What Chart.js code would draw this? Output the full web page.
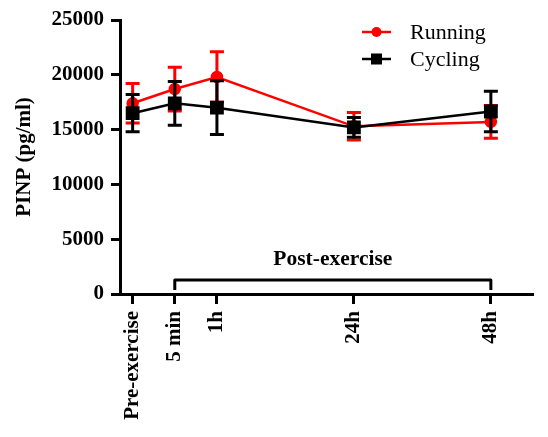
<!DOCTYPE html>
<html>
<head>
<meta charset="utf-8">
<script src="https://cdn.jsdelivr.net/npm/chart.js@4"></script>
<style>
  html, body { margin: 0; padding: 0; background: #fff; }
</style>
</head>
<body>
<canvas id="myChart" width="548" height="437"></canvas>
<script>
// time points (axis is not to scale in the original figure)
var timeLabels = ['Pre-exercise', '5 min', '1h', '24h', '48h'];
var timePos = [0, 1, 2, 5.25, 8.5];

// PINP values (pg/ml), mean and SD
var runningMean = [17400, 18700, 19800, 15300, 15700];
var runningSD = [1800, 2000, 2300, 1250, 1500];
var cyclingMean = [16500, 17400, 17000, 15200, 16650];
var cyclingSD = [1700, 2000, 2450, 900, 1850];

var yTicks = [0, 5000, 10000, 15000, 20000, 25000];

Chart.defaults.font.family = "'Liberation Serif', 'DejaVu Serif', serif";
Chart.defaults.color = '#000';

function toPoints(means) {
  return means.map(function (m, i) { return { x: timePos[i], y: m }; });
}

// error bars, drawn just under each dataset
var errorBars = {
  id: 'errorBars',
  beforeDatasetDraw: function (chart, args) {
    var ds = chart.data.datasets[args.index];
    var y = chart.scales.y;
    var ctx = chart.ctx;
    ctx.save();
    ctx.strokeStyle = ds.borderColor;
    ctx.lineWidth = 3;
    args.meta.data.forEach(function (pt, i) {
      var m = ds.data[i].y;
      var top = y.getPixelForValue(m + ds.sd[i]);
      var bot = y.getPixelForValue(m - ds.sd[i]);
      ctx.beginPath();
      ctx.moveTo(pt.x, top);
      ctx.lineTo(pt.x, bot);
      ctx.moveTo(pt.x - 7, top);
      ctx.lineTo(pt.x + 7, top);
      ctx.moveTo(pt.x - 7, bot);
      ctx.lineTo(pt.x + 7, bot);
      ctx.stroke();
    });
    ctx.restore();
  }
};

// "Post-exercise" bracket + legend
var extras = {
  id: 'extras',
  afterDraw: function (chart) {
    var ctx = chart.ctx;
    var x = chart.scales.x;
    var y0 = chart.scales.y.getPixelForValue(0);
    var xa = x.getPixelForValue(timePos[1]);
    var xb = x.getPixelForValue(timePos[4]);
    var yb = y0 - 14;
    ctx.save();
    ctx.strokeStyle = '#000';
    ctx.lineWidth = 3;
    ctx.lineJoin = 'round';
    ctx.beginPath();
    ctx.moveTo(xa, y0 - 4);
    ctx.lineTo(xa, yb);
    ctx.lineTo(xb, yb);
    ctx.lineTo(xb, y0 - 4);
    ctx.stroke();
    ctx.fillStyle = '#000';
    ctx.font = "bold 21.5px 'Liberation Serif'";
    ctx.textAlign = 'center';
    ctx.textBaseline = 'middle';
    ctx.fillText('Post-exercise', (xa + xb) / 2, yb - 21);

    // legend
    var rows = [32, 59];
    chart.data.datasets.forEach(function (ds, i) {
      var ly = rows[i];
      ctx.strokeStyle = ds.borderColor;
      ctx.fillStyle = ds.borderColor;
      ctx.lineWidth = 2.5;
      ctx.beginPath();
      ctx.moveTo(362, ly);
      ctx.lineTo(391, ly);
      ctx.stroke();
      if (ds.pointStyle === 'rect') {
        ctx.fillRect(371, ly - 5.5, 11, 11);
      } else {
        ctx.beginPath();
        ctx.arc(376.5, ly, 5, 0, Math.PI * 2);
        ctx.fill();
      }
      ctx.fillStyle = '#000';
      ctx.font = "22px 'Liberation Serif'";
      ctx.textAlign = 'left';
      ctx.fillText(ds.label, 410, ly + 1);
    });
    ctx.restore();
  }
};

var ctx = document.getElementById('myChart').getContext('2d');
var myChart = new Chart(ctx, {
  type: 'line',
  data: {
    datasets: [{
      label: 'Running',
      data: toPoints(runningMean),
      sd: runningSD,
      borderColor: '#ff0000',
      backgroundColor: '#ff0000',
      borderWidth: 2.5,
      pointStyle: 'circle',
      pointRadius: 5,
      order: 2
    }, {
      label: 'Cycling',
      data: toPoints(cyclingMean),
      sd: cyclingSD,
      borderColor: '#000000',
      backgroundColor: '#000000',
      borderWidth: 2.5,
      pointStyle: 'rect',
      pointRadius: 8,
      order: 1
    }]
  },
  options: {
    responsive: false,
    animation: false,
    layout: { padding: { top: 20, right: 15, left: 0, bottom: 0 } },
    plugins: { legend: { display: false }, tooltip: { enabled: false } },
    scales: {
      x: {
        type: 'linear',
        min: -0.3,
        max: 9.5,
        afterBuildTicks: function (scale) {
          scale.ticks = timePos.map(function (v) { return { value: v }; });
        },
        afterFit: function (scale) { scale.height = 143; },
        ticks: {
          autoSkip: false,
          minRotation: 90,
          maxRotation: 90,
          padding: 7,
          font: { size: 21, weight: 'bold' },
          callback: function (value, index) { return timeLabels[index]; }
        },
        grid: { drawOnChartArea: false, tickLength: 10, tickWidth: 3, tickColor: '#000' },
        border: { color: '#000', width: 3 }
      },
      y: {
        min: 0,
        max: 25000,
        afterBuildTicks: function (scale) {
          scale.ticks = yTicks.map(function (v) { return { value: v }; });
        },
        afterFit: function (scale) { scale.width = 120; },
        ticks: {
          padding: 7,
          font: { size: 21, weight: 'bold' },
          callback: function (value) { return String(value); }
        },
        title: {
          display: true,
          text: 'PINP (pg/ml)',
          font: { size: 21, weight: 'bold' },
          padding: { top: 12, bottom: 0 }
        },
        grid: { drawOnChartArea: false, tickLength: 9, tickWidth: 3, tickColor: '#000' },
        border: { color: '#000', width: 3 }
      }
    }
  },
  plugins: [errorBars, extras]
});
</script>
</body>
</html>
